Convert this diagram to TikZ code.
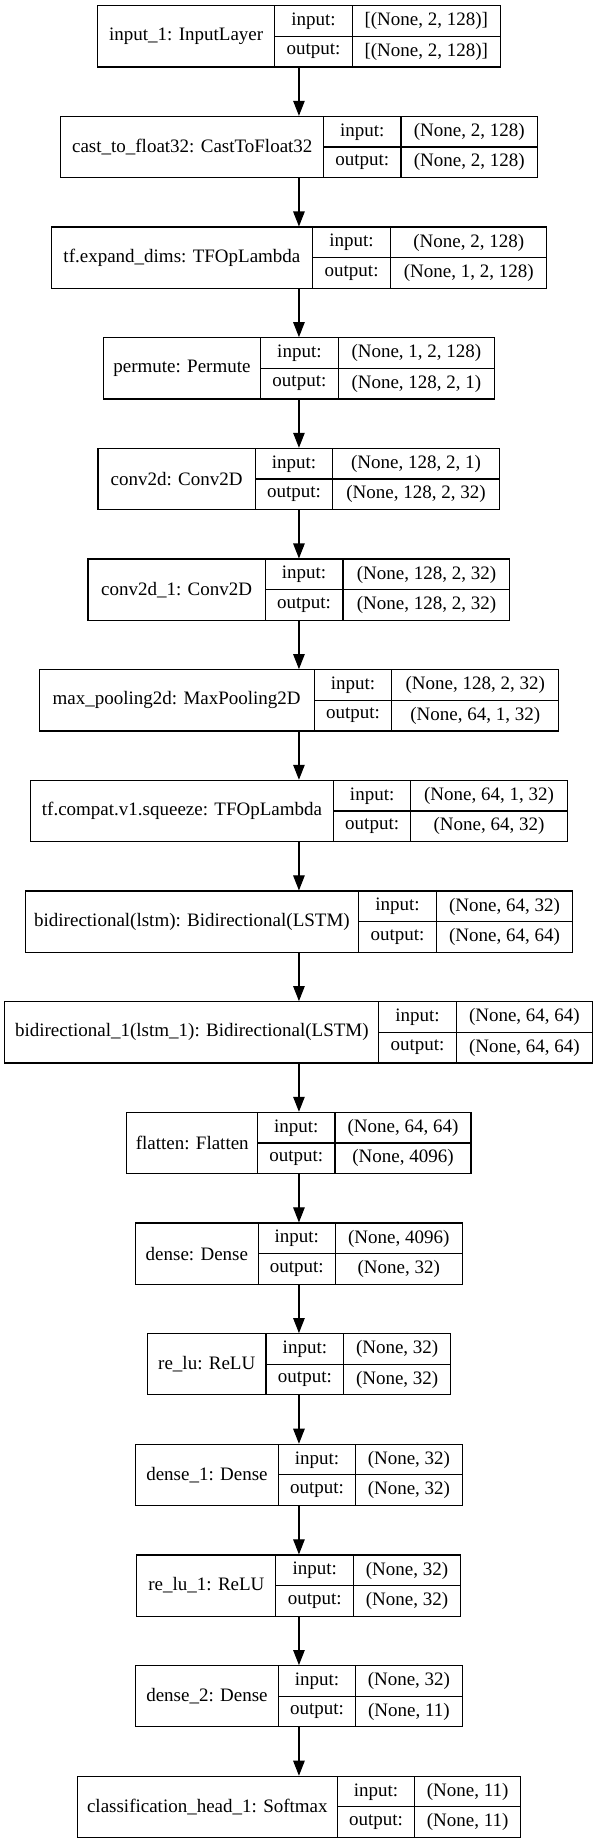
\documentclass[tikz,border=0pt]{standalone}
\usepackage{fontspec}
\setmainfont{Liberation Serif}
\usetikzlibrary{arrows.meta}
\tikzset{
  layerbox/.style={draw=black, line width=1.1pt, inner sep=0pt, fill=none},
  cellline/.style={draw=black, line width=1.1pt},
  txt/.style={inner sep=0pt, font=\fontsize{19}{22}\selectfont},
  conn/.style={draw=black, line width=1.1pt, -{Triangle[length=15pt,width=11.5pt]}}
}
\newcommand\lay[9]{%
  \pgfmathsetmacro\tp{5.7+(#2-1)*110.66}%
  \pgfmathsetmacro\bt{\tp+61.3}%
  \pgfmathsetmacro\md{\tp+30.65}%
  \pgfmathsetmacro\qa{\tp+15.6}%
  \pgfmathsetmacro\qb{\tp+45.9}%
  \node[layerbox, minimum width={(#6-#3)*1pt}, minimum height=61.3pt] (#1) at ({(#3+#6)/2},-\md) {};
  \draw[cellline] (#4,-\tp) -- (#4,-\bt);
  \draw[cellline] (#5,-\tp) -- (#5,-\bt);
  \draw[cellline] (#4,-\md) -- (#6,-\md);
  \node[txt] (#1name) at ({(#3+#4)/2},-\md) {#7};
  \node[txt] (#1inl) at ({(#4+#5)/2},-\qa) {input:};
  \node[txt] (#1outl) at ({(#4+#5)/2},-\qb) {output:};
  \node[txt] (#1inv) at ({(#5+#6)/2},-\qa) {#8};
  \node[txt] (#1outv) at ({(#5+#6)/2},-\qb) {#9};
}
\begin{document}
\begin{tikzpicture}[x=1pt,y=1pt]
\fill[white] (0,0) rectangle (597,-1844);
\useasboundingbox (0,0) rectangle (597,-1844);
\lay{l1}{1}{97.5}{274.8}{352.1}{500.4}{input\_1: InputLayer}{[(None, 2, 128)]}{[(None, 2, 128)]}
\lay{l2}{2}{60.9}{323.6}{401}{537.4}{cast\_to\_float32: CastToFloat32}{(None, 2, 128)}{(None, 2, 128)}
\lay{l3}{3}{51.4}{312.5}{390.7}{546.8}{tf.expand\_dims: TFOpLambda}{(None, 2, 128)}{(None, 1, 2, 128)}
\lay{l4}{4}{103.2}{260.7}{338.1}{494.7}{permute: Permute}{(None, 1, 2, 128)}{(None, 128, 2, 1)}
\lay{l5}{5}{98}{255.3}{332.7}{499.3}{conv2d: Conv2D}{(None, 128, 2, 1)}{(None, 128, 2, 32)}
\lay{l6}{6}{88}{265.2}{343}{509.9}{conv2d\_1: Conv2D}{(None, 128, 2, 32)}{(None, 128, 2, 32)}
\lay{l7}{7}{39.2}{314.1}{391.8}{558.7}{max\_pooling2d: MaxPooling2D}{(None, 128, 2, 32)}{(None, 64, 1, 32)}
\lay{l8}{8}{30.5}{333.5}{410.8}{567.1}{tf.compat.v1.squeeze: TFOpLambda}{(None, 64, 1, 32)}{(None, 64, 32)}
\lay{l9}{9}{25.2}{358.7}{436.4}{572.5}{bidirectional(lstm): Bidirectional(LSTM)}{(None, 64, 32)}{(None, 64, 64)}
\lay{l10}{10}{4.9}{378.8}{456.2}{592.6}{bidirectional\_1(lstm\_1): Bidirectional(LSTM)}{(None, 64, 64)}{(None, 64, 64)}
\lay{l11}{11}{126.9}{257.6}{335}{471}{flatten: Flatten}{(None, 64, 64)}{(None, 4096)}
\lay{l12}{12}{135.3}{258.4}{335.3}{462.2}{dense: Dense}{(None, 4096)}{(None, 32)}
\lay{l13}{13}{147.5}{266}{343.8}{450.5}{re\_lu: ReLU}{(None, 32)}{(None, 32)}
\lay{l14}{14}{135.3}{278.6}{355.6}{462.2}{dense\_1: Dense}{(None, 32)}{(None, 32)}
\lay{l15}{15}{136.9}{275.9}{353.6}{460.4}{re\_lu\_1: ReLU}{(None, 32)}{(None, 32)}
\lay{l16}{16}{135.3}{278.6}{355.6}{462.2}{dense\_2: Dense}{(None, 32)}{(None, 11)}
\lay{l17}{17}{77.4}{337.3}{414.7}{520.5}{classification\_head\_1: Softmax}{(None, 11)}{(None, 11)}
\foreach \a/\b in {l1/l2,l2/l3,l3/l4,l4/l5,l5/l6,l6/l7,l7/l8,l8/l9,l9/l10,l10/l11,l11/l12,l12/l13,l13/l14,l14/l15,l15/l16,l16/l17}
  \draw[conn] (\a.south -| l1.center) -- (\b.north -| l1.center);
\end{tikzpicture}
\end{document}
